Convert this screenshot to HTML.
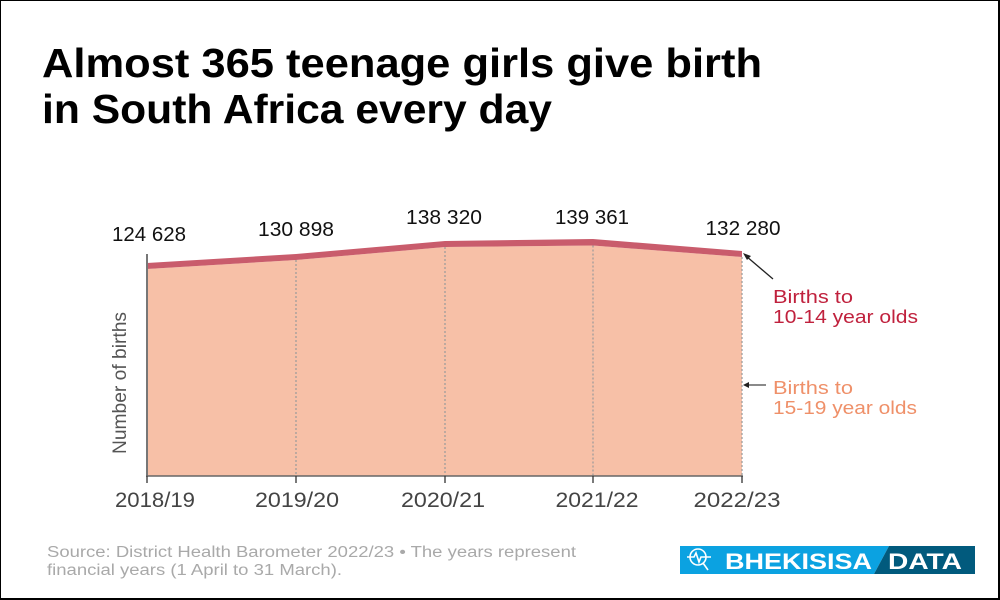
<!DOCTYPE html>
<html><head><meta charset="utf-8"><style>
html,body{margin:0;padding:0;background:#fff;}
body{width:1000px;height:600px;overflow:hidden;}
svg{display:block;}
text{font-family:"Liberation Sans",sans-serif;}
</style></head><body>
<svg width="1000" height="600" viewBox="0 0 1000 600" xmlns="http://www.w3.org/2000/svg">
<rect x="0.5" y="0.5" width="999" height="599" fill="#fff" stroke="#000" stroke-width="1"/>
<rect x="998" y="0" width="2" height="600" fill="#000"/>
<rect x="0" y="598" width="1000" height="2" fill="#000"/>

<!-- Title -->
<text x="42" y="77" font-size="41" font-weight="bold" fill="#000" textLength="720" lengthAdjust="spacingAndGlyphs">Almost 365 teenage girls give birth</text>
<text x="42" y="123" font-size="41" font-weight="bold" fill="#000" textLength="510" lengthAdjust="spacingAndGlyphs">in South Africa every day</text>

<!-- Area -->
<polygon points="147,269 296,260 445,247 593,245.5 742,257 742,476 147,476" fill="#f7c0a7"/>
<polygon points="147,263 296,254 445,241 593,239 742,251 742,257 593,245.5 445,247 296,260 147,269" fill="#c95c6c"/>

<!-- gridlines dotted -->
<g stroke="#9a9a9a" stroke-width="1.2" stroke-dasharray="2,2">
<line x1="296" y1="260" x2="296" y2="476"/>
<line x1="445" y1="247" x2="445" y2="476"/>
<line x1="593" y1="245.5" x2="593" y2="476"/>
<line x1="742" y1="257" x2="742" y2="476"/>
</g>

<!-- axes -->
<line x1="147" y1="254" x2="147" y2="476" stroke="#777" stroke-width="2"/>
<line x1="146" y1="476" x2="743" y2="476" stroke="#666" stroke-width="1.5"/>
<g stroke="#333" stroke-width="1.3">
<line x1="147" y1="476" x2="147" y2="483"/>
<line x1="296" y1="476" x2="296" y2="483"/>
<line x1="445" y1="476" x2="445" y2="483"/>
<line x1="593" y1="476" x2="593" y2="483"/>
<line x1="742" y1="476" x2="742" y2="483"/>
</g>

<!-- value labels -->
<g font-size="20" fill="#111" text-anchor="middle">
<text x="149" y="241" textLength="74" lengthAdjust="spacingAndGlyphs">124 628</text>
<text x="296" y="236" textLength="76" lengthAdjust="spacingAndGlyphs">130 898</text>
<text x="444" y="224" textLength="76" lengthAdjust="spacingAndGlyphs">138 320</text>
<text x="592" y="224" textLength="74" lengthAdjust="spacingAndGlyphs">139 361</text>
<text x="743" y="235" textLength="75" lengthAdjust="spacingAndGlyphs">132 280</text>
</g>

<!-- x labels -->
<g font-size="21" fill="#444" text-anchor="middle">
<text x="155" y="507" textLength="80" lengthAdjust="spacingAndGlyphs">2018/19</text>
<text x="297" y="507" textLength="84" lengthAdjust="spacingAndGlyphs">2019/20</text>
<text x="443" y="507" textLength="84" lengthAdjust="spacingAndGlyphs">2020/21</text>
<text x="597" y="507" textLength="83" lengthAdjust="spacingAndGlyphs">2021/22</text>
<text x="737" y="507" textLength="87" lengthAdjust="spacingAndGlyphs">2022/23</text>
</g>

<!-- y label -->
<text x="0" y="0" font-size="19" fill="#555" text-anchor="middle" transform="translate(126,383) rotate(-90)" textLength="142" lengthAdjust="spacingAndGlyphs">Number of births</text>

<!-- annotations -->
<line x1="773" y1="279" x2="746" y2="256" stroke="#222" stroke-width="1.3"/>
<polygon points="743,253 751,256 747,260" fill="#222"/>
<line x1="766" y1="385" x2="747" y2="385" stroke="#444" stroke-width="1.3"/>
<polygon points="743,385 749,382 749,388" fill="#222"/>

<g font-size="18">
<text x="773" y="303" fill="#c0213d" textLength="80" lengthAdjust="spacingAndGlyphs">Births to</text>
<text x="773" y="323" fill="#c0213d" textLength="145" lengthAdjust="spacingAndGlyphs">10-14 year olds</text>
<text x="773" y="394" fill="#ef9069" textLength="80" lengthAdjust="spacingAndGlyphs">Births to</text>
<text x="773" y="414" fill="#ef9069" textLength="144" lengthAdjust="spacingAndGlyphs">15-19 year olds</text>
</g>

<!-- source -->
<g font-size="15.5" fill="#a9a9a9">
<text x="47" y="557" textLength="529" lengthAdjust="spacingAndGlyphs">Source: District Health Barometer 2022/23 • The years represent</text>
<text x="47" y="575" textLength="295" lengthAdjust="spacingAndGlyphs">financial years (1 April to 31 March).</text>
</g>

<!-- logo -->
<polygon points="680,546 889,546 874,574 680,574" fill="#0ba2e1"/>
<polygon points="889,546 975,546 975,574 874,574" fill="#015a7d"/>
<g stroke="#fff" stroke-width="1.6" fill="none">
<circle cx="698" cy="557" r="8"/>
<polyline points="687,557 694,557 696,553 699,562 701,557 711,557"/>
<line x1="703" y1="563" x2="708" y2="570"/>
</g>
<text x="725" y="569" font-size="22" font-weight="bold" fill="#fff" textLength="147" lengthAdjust="spacingAndGlyphs">BHEKISISA</text>
<text x="888" y="569" font-size="22" font-weight="bold" fill="#fff" textLength="74" lengthAdjust="spacingAndGlyphs">DATA</text>
</svg>
</body></html>
